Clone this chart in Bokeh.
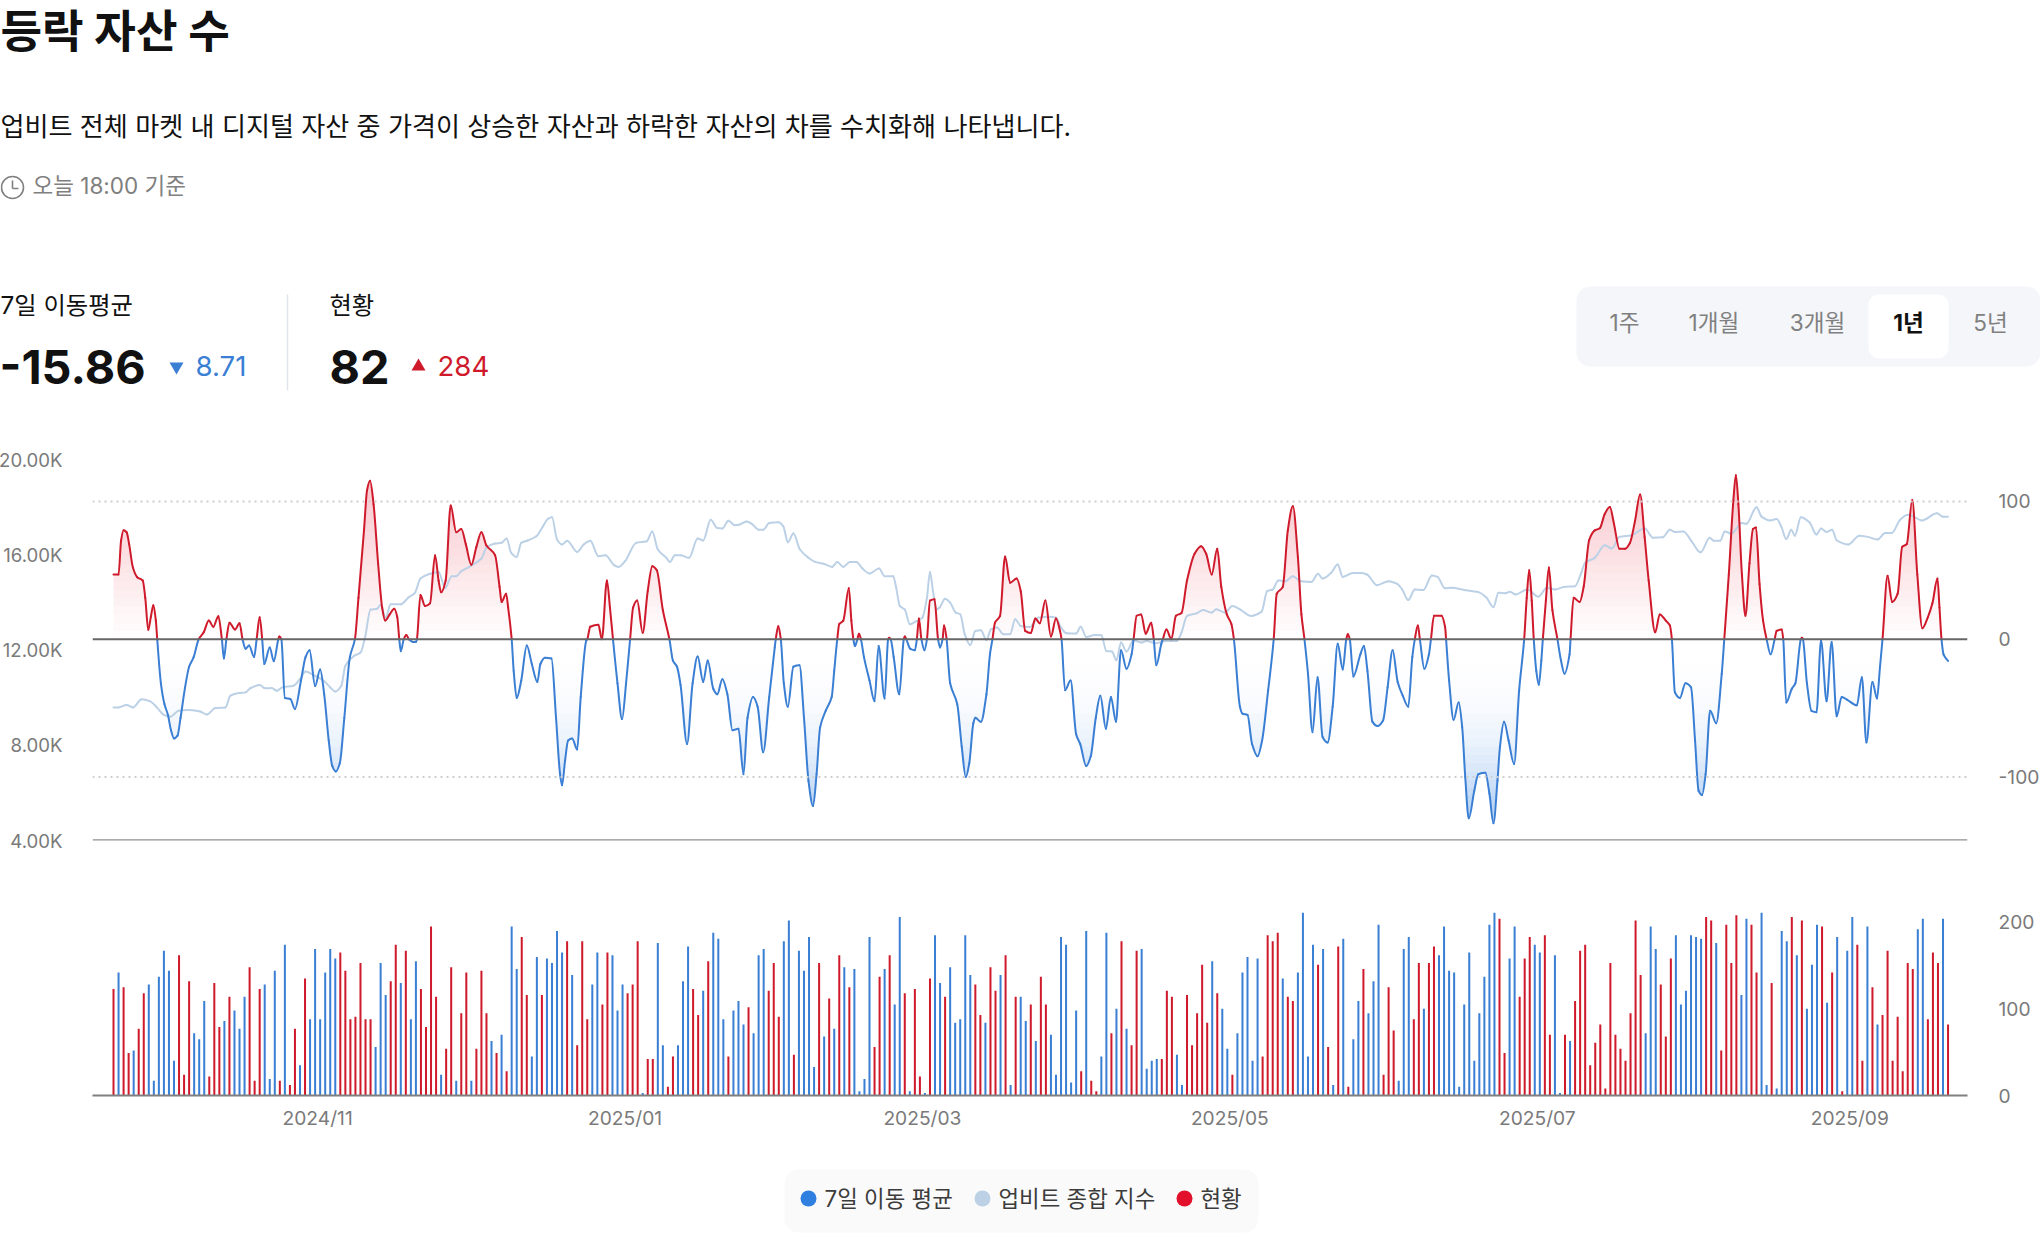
from bokeh.embed import file_html
from bokeh.resources import INLINE
from bokeh.plotting import figure
from bokeh.layouts import column
from bokeh.models import (Range1d, LinearAxis, FixedTicker, Span, Label, BoxAnnotation, ColumnDataSource)
import numpy as np

# ---------- data ----------
TITLE = "등락 자산 수"
DESC = "업비트 전체 마켓 내 디지털 자산 중 가격이 상승한 자산과 하락한 자산의 차를 수치화해 나타냅니다."
BASIS = "오늘 18:00 기준"
tabs = ["1주", "1개월", "3개월", "1년", "5년"]
left_ticks = [4000, 8000, 12000, 16000, 20000]
left_labels = ["4.00K", "8.00K", "12.00K", "16.00K", "20.00K"]
ma_ticks = [-100, 0, 100]
ma_labels = ["-100", "0", "100"]
bar_ticks = [0, 100, 200]
month_ticks = [40.5, 101.5, 160.5, 221.5, 282.5, 344.5]
month_labels = ["2024/11", "2025/01", "2025/03", "2025/05", "2025/07", "2025/09"]
legend_names = ["7일 이동 평균", "업비트 종합 지수", "현황"]

# daily status (sign = colour), read in three stretches
status_a = [123,-142,125,49,-52,77,118,-128,-17,-137,-167,-144,-40,162,24,132,-72,-65,-109,22,130,79,-86,114,-98,-77,-114,148,17,123,-128,-19,-144,17,-174,12,77,-35,135,-88,-169,-88,-142,-169,-158,165,144,88,91,153,88,88,-56,-153,-116,132,174,-130,167,-88,-155,123,79,195,114,-24,54,148,-17,95,142,-17,54,144,95,-63,49,-70,28,-195,-146,183,116,-45,-160,116,-158,-153,-190,-165,178,-139,58,178,88,-128,-165,105,165,-162,-98,-128,118,128,178,-3,42,42,-176,-58,10,45,-58,-132,-172,123,93,-121,155,-188,-181]
status_b = [-88,45,-98,-109,-82,102,-72,-162,-169,121,153,91,-178,-202,47,-167,-144,-183,-33,153,-68,112,-77,162,-148,125,-146,-5,-19,-183,56,137,-146,162,-105,-206,118,-5,123,22,-3,135,-185,-130,114,-148,-84,-88,-185,-139,128,93,-84,148,121,-139,162,-12,114,-114,-86,105,-63,137,105,-70,-24,-183,-174,-15,-98,28,-190,17,5,-45,-188,72,-100,178,-77,58,167,-169,-31,-40,-42,42,121,114,-47,-12,116,58,95,151,84,-155,118,-100,-54,24,-72,-142,-160,-40,-158,45,185,178,188,-135,114,109,-142,-211,-45,-174,151,-169,56,-12,172,-181,10,-65,-109,146,-95,-132,-197]
status_c = [24,125,75,-17,-169,-183,88,153,-100,153,172,-162,-195,-144,-142,-10,-105,-165,-40,-95,-137,-197,-211,204,49,-158,-195,114,158,183,-174,-165,185,70,-162,-3,70,-63,109,167,174,35,61,82,8,153,70,54,40,95,202,139,-72,-195,-169,128,68,158,-185,-105,-121,-185,-183,-181,206,202,-176,52,197,153,208,-116,-204,197,142,-211,-12,130,-8,-190,-178,206,-162,202,-100,-151,-197,195,-107,142,-183,5,-167,-206,174,40,-195,125,-82,93,167,40,91,28,153,146,-192,-204,88,165,153,-204,82]

# 7-day average curve: (day, value) pairs
ma_curve = [
(0,47),(1,47),(1.5,71.6),(2,79),(2.6,77.6),(3.1,69),(3.85,52),(4.7,45),(5.8,42.6),(6.3,30),(6.9,6.8),(7.4,16),(7.9,24.7),(8.4,13.5),(8.67,0),
(9.4,-32),(10.1,-47),(10.8,-55),(11.4,-66),(12,-72),(12.7,-70),(13.3,-57),(14.2,-35),(15,-20),(15.9,-13),(16.9,0),
(17.9,5),(18.9,13.5),(19.8,9),(20.8,16.7),(21.5,0),(21.9,-14),(22.4,0),(23,12),(24.1,7),(25,11.6),(25.6,0),
(26.2,-7),(26.9,-4.6),(27.9,-13),(28.4,0),(29,16),(29.5,0),(29.9,-18),(31,-6),(31.8,-16),(32.7,0),(32.9,2),(33.3,0),
(34,-42.6),(35.1,-43.5),(36,-50.6),(37.2,-30),(38.1,-13),(38.9,-8),(40,-34),(41,-22),(41.8,-40),(42.7,-73.5),(43.4,-92),(44.1,-96),(44.9,-90),(45.8,-57),(46.9,-13),(47.9,0),
(48.6,30),(49.7,79),(50.3,108),(50.9,115),(51.6,98),(52.5,55),(53.3,23),(53.9,13.5),(54.8,18),(55.7,22),(56.3,16),(56.7,0),
(57,-8.7),(57.6,0),(58.1,3),(58.6,0),(59.4,-2),(60,-2),(60.2,0),
(60.9,32),(61.8,24),(62.8,26),(63.8,61),(64.5,42.6),(65,34),(65.9,42.6),(66.9,97),(68,77.6),(69,80),(69.9,69),(71,54),(72,67),(73,77.6),(74,68),(75.7,61),(76.6,38),(77,27),(77.9,33),(78.3,23),(79,0),
(79.4,-23),(80,-42.6),(80.9,-30),(82,-4.6),(83,-18),(84.1,-31),(84.7,-18),(85.6,-13.5),(86.9,-14),(87.8,-57),(88.6,-98),(89,-106),(89.6,-88),(90.2,-73.5),(91,-72),(92,-80),(92.7,-42),(93.8,-1),(94,0),
(94.6,9),(96.2,10.4),(96.9,0),(97.9,42.6),(98.5,23),(99.1,0),
(100,-32),(100.9,-58),(101.7,-32),(102.5,0),(103.1,23),(103.9,28),(105,4.6),(106,35),(106.9,53),(107.8,50),(109,21),(110.3,0),
(111,-15.5),(111.8,-20),(112.5,-33),(113.8,-76),(114.9,-32),(115.9,-12.6),(117,-31),(117.9,-15.5),(119,-36),(119.8,-40),(120.8,-29),(121.8,-40),(122.8,-66),(124,-65),(125,-98),(125.8,-57),(126.9,-42),(127.8,-49),(128.9,-82),(130.1,-42),(131.2,-6),(131.4,0),
(131.9,9.4),(132.4,0),(133,-32),(133.8,-49),(134.9,-20),(136.1,-19),(137,-57),(137.9,-103),(138.8,-121),(139.5,-98),(140.2,-64),(141.3,-52),(142.5,-42),(143,-23),(143.6,0),
(144,11),(144.8,13.5),(145.9,37),(146.4,13.5),(146.8,0),(147.1,-5),(147.6,0),(147.9,4),(148.3,0),
(148.9,-13),(150,-30),(151,-45),(151.8,-5),(153,-43),(153.7,0),(153.9,1),(154.2,0),(154.8,-13),(155.9,-40),(156.8,0),(157,2),(157.3,0),
(158.1,-7),(159,-8),(159.4,0),(159.8,15),(160.3,0),(160.9,-8),(161.4,0),(162,28),(162.9,29),(163.6,0),(164,-6),(164.5,0),(164.8,10),(165.3,0),
(166,-32),(167.4,-47),(168.3,-78),(169.1,-100),(169.8,-90),(170.6,-61),(171,-57),(172.1,-60),(173.2,-40),(173.9,-11),(174.4,0),
(174.9,12),(175.9,17),(176.9,60),(177.9,41),(179.2,44),(180,35),(180.9,6),(182,4.4),(182.9,15),(183.8,11.6),(184.9,28),(186,2),(187,15),(187.8,6),(188.1,0),
(188.8,-37),(189.9,-30),(191,-69),(191.8,-76),(193,-92),(193.9,-85),(194.9,-57),(195.8,-41),(196.9,-65),(197.9,-42),(198.9,-60),(199.9,-8),(201,-21.5),(202,-11),(202.4,0),
(203,17),(203.9,18),(204.8,4),(205.9,12),(206.4,0),(206.9,-19),(207.9,-3.4),(208.2,0),(208.9,7),(209.9,0),
(210.8,17),(211.9,19),(213,42.6),(214.5,62),(215.8,67.5),(216.8,62),(217.9,47),(219,65.6),(219.8,38),(220.9,18),(221.8,11),(222.3,0),
(223.5,-49),(224,-54),(225,-55),(225.9,-76),(227,-85),(227.9,-73.5),(229.1,-37),(230.2,0),
(230.8,33),(232,38),(233,79),(234,96.5),(235,59.5),(235.7,18),(236.3,0),
(237,-25),(237.9,-67.5),(238.9,-27.6),(239.9,-71),(240.9,-75),(241.9,-49),(242.9,-3.4),(243.9,-22),(244.6,0),(244.9,3.6),(245.3,0),
(246,-27),(247.4,-11),(248.1,-5),(248.8,-23),(249.8,-60),(250.8,-63),(251.9,-59),(252.8,-35),(253.8,-8),(254.8,-31),(255.8,-41),(256.9,-49),(257.7,-13),(258.2,0),
(258.8,10),(259.2,0),(260.1,-21.5),(261,-11),(261.4,0),(262,17),(263.5,17),(264.2,9),(264.4,0),
(265,-30),(265.9,-58.5),(266.9,-46),(267.6,-64),(268.2,-100),(268.9,-130),(270,-110),(270.8,-98),(272.2,-97),(273,-112),(273.8,-133.5),(274.6,-102.6),(275.1,-78),(275.9,-60),(276.8,-73.5),(277.9,-90.5),(278.9,-37),(279.9,0),
(280.4,30),(280.9,50),(281.4,28),(281.8,0),(282.3,-23),(282.8,-33),(283.3,-15.5),(283.6,0),(284.2,28),(284.8,52),(285.5,21),(286.5,0),
(287.2,-15.5),(287.9,-25),(288.9,-11),(289.1,0),(289.7,30),(290.9,27),(291.7,38),(292.8,72),(293.9,79),(294.9,80.5),(295.9,91),(296.9,96),(297.7,84),(298.8,65.6),(299.9,65.6),(300.9,70),(301.9,86),(302.9,105),(303.8,74),(304.6,42.6),(305.9,5),(306.8,18),(308,13.5),(308.8,10),(309.2,0),
(309.8,-38.5),(310.8,-42.6),(311.9,-32),(313,-35),(313.8,-73.5),(314.5,-110),(315.2,-113),(315.9,-98),(316.8,-52),(318,-61),(319.1,-25),(319.6,0),
(320.5,47),(321.4,100.6),(321.9,119),(322.4,98),(323.1,47),(323.8,17),(324.6,55),(325.3,80),(325.9,81),(326.6,40),(327.3,13.5),(328,0),
(328.8,-11),(329.6,0),(330,6),(331,7),(331.3,0),(331.9,-46),(333,-36),(333.7,-32),(334.8,0),(335,1),(335.2,0),
(336,-32),(336.9,-52),(337.9,-53),(338.8,-1),(339.9,-45),(340.9,-2),(341.9,-56),(342.9,-42),(344,-44),(345.9,-48),(346.9,-27.6),(347.8,-75),(349,-31),(349.9,-43),(350.5,-20),(351,0),
(352,46),(352.9,27),(354,33),(354.9,67),(355.8,69),(356.9,101),(357.9,47),(358.9,8),(360,16),(360.9,26),(361.9,44),(362.3,23),(362.7,0),
(363.1,-11),(364,-15.86),
]

# Upbit composite index (thousands): (day, value) pairs
index_curve = [
(0,9.59),(1,9.59),(2.6,9.69),(3.85,9.59),(5.6,9.93),(7.3,9.84),(8.6,9.59),(9.9,9.29),(11.3,9.2),(12.9,9.45),(14.6,9.48),(17.2,9.42),(18.5,9.29),(20.2,9.56),(22.2,9.59),(23.2,10.08),(24.9,10.19),(26.2,10.22),(27.1,10.39),(29,10.53),(30.1,10.39),(31.4,10.4),(32.4,10.29),(33.5,10.43),(35.7,10.5),(37,10.78),(38.1,11.1),(39.6,10.96),(41.7,10.71),(43,10.43),(44,10.26),(45.2,10.5),(46,11.34),(47.7,11.75),(49,11.89),(49.9,12.52),(51,13.7),(52.3,13.73),(53,13.9),(54,13.36),(55,13.92),(57,13.92),(58.5,14.2),(59.8,14.4),(60.9,15),(62.8,15.2),(64.5,15.28),(65.8,14.6),(67.1,15.1),(68,15.1),(69,15.31),(70.5,15.48),(73,15.84),(74,16.3),(75.7,16.47),(77,16.5),(78,16.68),(78.9,16.08),(80,15.91),(80.9,16.5),(82.2,16.6),(83.9,16.78),(85.2,17.19),(86.2,17.51),(87,17.57),(88,16.64),(89,16.43),(90,16.59),(92,16.12),(93.3,16.43),(94.6,16.59),(96.2,15.94),(97.6,15.98),(99.4,15.55),(100.2,15.49),(101.5,15.73),(103.7,16.5),(105.8,16.57),(106.9,16.98),(108,16.22),(109.7,15.87),(110.4,15.7),(111.4,15.98),(112.5,15.98),
(114.2,15.87),(115.9,16.68),(117,16.6),(118.5,17.47),(119.8,17.12),(120.8,17.1),(122,17.43),(123.3,17.24),(124.1,17.26),(125.6,17.4),(126.7,17.29),(128,17.05),(128.9,17.05),(130.1,17.33),(131.9,17.36),(132.9,17.19),(133.8,16.52),(134.9,16.89),(136.2,16.22),(137.9,15.87),(139.2,15.7),(140.9,15.62),(142.6,15.49),(143.6,15.7),(144.8,15.49),(146.1,15.7),(147.4,15.7),(148.6,15.42),(150,15.21),(151.9,15.42),(153,15.1),(154.7,15.1),(155.3,14.61),(156,13.85),(157,13.7),(158,13.08),(159.4,13.22),(160.5,13.36),(161.4,14.2),(162,15.28),(162.6,14.47),(163.3,13.7),(163.9,13.78),(165,14.15),(166,13.99),(167.1,13.57),(168,13.5),(168.9,12.66),(170,12.21),(171,12.8),(172.1,12.83),(173.2,12.42),(174.1,12.87),(175.3,12.94),(176.6,12.66),(177.9,12.66),(178.9,13.29),(180,13.01),(181.8,12.97),(183.5,13.36),(185.6,13.4),(187,13.36),(188,12.94),(189.1,12.7),(191,12.69),(191.9,12.98),(193,12.55),(194.7,12.63),(196,12.62),(197,11.96),(198.1,11.94),(199,11.57),(199.9,12.31),(201,11.94),(202.4,12.41),(203.9,12.31),(205,12.38),(206.7,12.28),(208.9,12.38),(211,12.38),(211.9,12.73),(213,13.43),(214.9,13.54),(216.2,13.68),(217.9,13.57),(218.8,13.71),(220.5,13.57),(222,13.85),(223.5,13.71),(225.7,13.43),(227.8,13.61),(228.9,14.47),(230,14.54),(231.1,14.92),(232.5,14.89),(234,15.1),(235.6,14.89),(237.7,14.86),(239,15.2),(239.9,15),(241.6,15.24),(242.9,15.59),(243.9,15.07),(245.9,15.23),(247.4,15.23),
(248.7,15.17),(250.7,14.72),(253,14.89),(254.7,14.78),(255.7,14.54),(256.9,14.1),(258.2,14.54),(259.9,14.52),(261.6,15.13),(262.7,15.07),(264.2,14.59),(265.5,14.61),(268,14.52),(270.8,14.43),(272.4,14.2),(273.8,13.8),(274.8,14.4),(276.2,14.38),(277.1,14.45),(278.2,14.33),(280.5,14.54),(282.7,14.24),(284.4,14.61),(286.1,14.54),(287.8,14.65),(290,14.68),(291.1,15.17),(292,15.66),(293.9,15.87),(295.9,16.4),(297.3,16.26),(298.8,16.75),(301.2,16.82),(303.8,17.1),(305.5,16.71),(307.4,16.73),(308.8,17.05),(309.8,16.96),(311.5,16.98),(313.2,16.54),(314.9,16.1),(316.7,16.71),(317.5,16.59),(318.8,16.59),(319.7,16.98),(321,16.89),(323.1,17.33),(324,17.3),(326,18),(327,17.6),(328.7,17.44),(330,17.5),(330.9,17.19),(331.9,16.66),(332.9,17.05),(333.6,16.8),(334.8,17.57),(336.5,17.36),(337.9,16.85),(338.8,17.1),(339.9,16.96),(341,17.05),(341.9,16.61),(344.2,16.43),(346.4,16.8),(348.1,16.75),(350,16.64),(351.5,16.91),(352.8,16.91),(354.5,17.47),(356,17.68),(357.1,17.61),(358.8,17.44),(361.8,17.74),(363,17.6),(364,17.6),
]

# ---------- style ----------
FONT = 'Inter, "Noto Sans CJK KR"'
RED = "#cf1a2c"
BLUE = "#3a7fd4"
LIGHT = "#bcd1e6"
RED_DOT = "#e2102a"
BLUE_DOT = "#2f7fe0"
AXIS_TXT = "#7a7a7a"
TICK_SIZE = "19.2px"
W = 2040
FIG = dict(output_backend="svg", toolbar_location=None, background_fill_color="white", border_fill_color="white",
           outline_line_color=None, frame_align=False)


def canvas(h, y0):
    """a plain panel whose units are page pixels"""
    c = figure(width=W, height=h, x_range=Range1d(0, W), y_range=Range1d(y0 + h, y0), x_axis_location=None,
               y_axis_location=None, min_border=0, **FIG)
    c.grid.visible = False
    return c


def txt(c, x, y, s, size, color="#111111", style="normal", align="left"):
    c.add_layout(Label(x=x, y=y, text=s, text_font=FONT, text_font_size=f"{size}px", text_color=color,
                       text_font_style=style, text_align=align, text_baseline="middle"))


def quiet(axis, standoff):
    axis.axis_line_color = None
    axis.major_tick_line_color = None
    axis.minor_tick_line_color = None
    axis.major_tick_out = 0
    axis.major_tick_in = 0
    axis.minor_tick_out = 0
    axis.major_label_standoff = standoff
    axis.major_label_text_font = FONT
    axis.major_label_text_font_size = TICK_SIZE
    axis.major_label_text_color = AXIS_TXT


def smooth_segments(x, y):
    """Bezier handles that pass through every reading, flat at its peaks, as a monotone chart spline does"""
    x, y = np.asarray(x, float), np.asarray(y, float)
    h = np.diff(x)
    s = np.diff(y) / h
    m = np.zeros(len(x))
    m[0], m[-1] = s[0], s[-1]
    for i in range(1, len(x) - 1):
        if s[i - 1] * s[i] > 0:
            m[i] = 2 * s[i - 1] * s[i] / (s[i - 1] + s[i])
    return dict(x0=x[:-1], y0=y[:-1], x1=x[1:], y1=y[1:], cx0=x[:-1] + h / 3, cy0=y[:-1] + m[:-1] * h / 3,
                cx1=x[1:] - h / 3, cy1=y[1:] - m[1:] * h / 3)


# ---------- header ----------
H0 = canvas(440, 0)
txt(H0, 0, 31, TITLE, 45.2, "#111111", "bold")
txt(H0, 0, 126, DESC, 26.1)
txt(H0, 32, 185, BASIS, 22.5, "#808080")
H0.circle([12], [187], radius=11, fill_color=None, line_color="#808080", line_width=1.6)
H0.segment([12, 12], [180, 188], [12, 18], [188, 188], line_color="#808080", line_width=1.6)
txt(H0, 0, 304, "7일 이동평균", 24.3)
txt(H0, 329, 304, "현황", 24.3)
H0.segment([287], [294], [287], [390], line_color="#e2e5eb", line_width=1.5)
txt(H0, -1, 366, "-15.86", 46.8, "#111111", "bold")
H0.scatter([176], [366], marker="inverted_triangle", size=14, fill_color=BLUE, line_color=None)
txt(H0, 195, 365, "8.71", 27.6, BLUE)
txt(H0, 329, 366, "82", 46.8, "#111111", "bold")
H0.scatter([418], [366], marker="triangle", size=14, fill_color=RED, line_color=None)
txt(H0, 437, 365, "284", 27.6, RED)
H0.add_layout(BoxAnnotation(left=1576, right=2040, top=286, bottom=366, fill_color="#f4f6fa", fill_alpha=1, line_color=None, border_radius=14, level="underlay"))
H0.add_layout(BoxAnnotation(left=1868, right=1948, top=294, bottom=358, fill_color="white", fill_alpha=1, line_color=None, border_radius=10, level="underlay"))
for cx, name in zip([1624, 1713.5, 1817, 1908, 1990], tabs):
    on = name == "1년"
    txt(H0, cx, 322, name, 22.6, "#111111" if on else "#808080", "bold" if on else "normal", "center")

# ---------- shared x ----------
x_rng = Range1d(-4.17, 367.86)

# ---------- main panel ----------
ma_x = np.array([a for a, _ in ma_curve], float)
ma_y = np.array([b for _, b in ma_curve], float)
ix_x = [a for a, _ in index_curve]
ix_y = [b * 1000 for _, b in index_curve]

# wider than the page by what the left margin takes back, so the axes leave the frame at 92..1967
M = figure(width=W + 18, height=420, x_range=x_rng, y_range=Range1d(left_ticks[0], left_ticks[-1]), x_axis_location=None,
           min_border_left=100, min_border_right=73, min_border_top=19, min_border_bottom=20, margin=(0, 0, 0, -8), **FIG)
M.grid.visible = False
M.extra_y_ranges["ma"] = Range1d(-146.1, 130.4)

# gradient under the curve, built out of thin value bands
step = 6.0
for k in range(22):
    lo, hi = k * step, (k + 1) * step
    mid = (lo + hi) / 2
    a_up = min(0.26, 0.21 * mid / 100)
    a_dn = min(0.32, 0.25 * (mid / 107) ** 2.5)
    pos = np.maximum(ma_y, 0)
    neg = np.maximum(-ma_y, 0)
    if pos.max() > lo:
        M.varea(ma_x, np.minimum(pos, lo), np.minimum(pos, hi), fill_color="#e2102a", fill_alpha=a_up, y_range_name="ma")
    if neg.max() > lo:
        M.varea(ma_x, -np.minimum(neg, lo), -np.minimum(neg, hi), fill_color="#2f7fe0", fill_alpha=a_dn, y_range_name="ma")

for v in (-100, 100):
    M.add_layout(Span(location=v, dimension="width", line_color="#cfcfcf", line_width=2, line_dash=[2, 4], y_range_name="ma"))
M.add_layout(Span(location=0, dimension="width", line_color="#666666", line_width=2, y_range_name="ma"))
M.add_layout(Span(location=M.extra_y_ranges["ma"].start, dimension="width", line_color="#8f8f8f", line_width=2.5, y_range_name="ma"))

M.bezier(x0="x0", y0="y0", x1="x1", y1="y1", cx0="cx0", cy0="cy0", cx1="cx1", cy1="cy1",
         source=ColumnDataSource(smooth_segments(ix_x, ix_y)), line_color=LIGHT, line_width=2, line_cap="round")

# colour each stretch of the curve by its sign; the stretches meet at the zero readings
seg = smooth_segments(ma_x, ma_y)
up = (seg["y0"] + seg["y1"]) > 0
for mask, color in ((up, RED), (~up, BLUE)):
    part = {k: v[mask] for k, v in seg.items()}
    M.bezier(x0="x0", y0="y0", x1="x1", y1="y1", cx0="cx0", cy0="cy0", cx1="cx1", cy1="cy1",
             source=ColumnDataSource(part), line_color=color, line_width=2, line_cap="round", y_range_name="ma")

la = M.yaxis[0]
la.ticker = FixedTicker(ticks=left_ticks)
la.major_label_overrides = dict(zip(left_ticks, left_labels))
quiet(la, 30)
la.major_label_text_font_size = "18.6px"
ra = LinearAxis(y_range_name="ma", ticker=FixedTicker(ticks=ma_ticks),
                major_label_overrides=dict(zip(ma_ticks, ma_labels)))
quiet(ra, 31)
M.add_layout(ra, "right")

# ---------- bars ----------
status = status_a + status_b + status_c
src = ColumnDataSource(dict(day=list(range(len(status))), top=[abs(s) for s in status],
                            color=[RED if s > 0 else BLUE for s in status]))
B = figure(width=W, height=288, x_range=x_rng, y_range=Range1d(0, 227.4), y_axis_location="right",
           min_border_left=92, min_border_right=73, min_border_top=38, min_border_bottom=53, **FIG)
B.grid.visible = False
B.vbar(x="day", top="top", bottom=0, width=0.4, fill_color="color", line_color=None, source=src)
bx = B.xaxis[0]
bx.ticker = FixedTicker(ticks=month_ticks)
bx.major_label_overrides = dict(zip(month_ticks, month_labels))
quiet(bx, 10)
bx.axis_line_color = "#808080"
bx.axis_line_width = 2
by = B.yaxis[0]
by.ticker = FixedTicker(ticks=bar_ticks)
quiet(by, 31)

# ---------- legend ----------
L = canvas(86, 1148)
L.add_layout(BoxAnnotation(left=784, right=1258, top=1169, bottom=1232, fill_color="#fafafa", fill_alpha=1, line_color=None, border_radius=14, level="underlay"))
for cx, name, col in zip([808, 982, 1184], legend_names, [BLUE_DOT, LIGHT, RED_DOT]):
    L.scatter([cx], [1198], marker="circle", size=16, fill_color=col, line_color=None)
    txt(L, cx + 16, 1197.5, name, 22.4, "#3c3c3c")

page = column(H0, M, B, L, spacing=0)
open("out.html", "w").write(file_html(page, INLINE))
